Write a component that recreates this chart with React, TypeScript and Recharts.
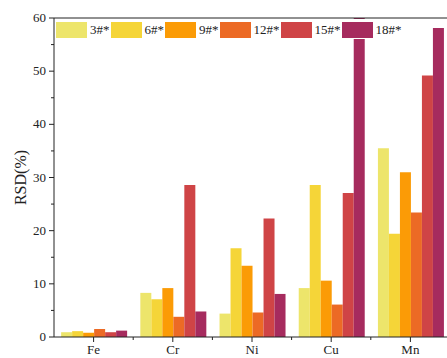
import React from 'react';
import { BarChart, Bar, XAxis, YAxis, ReferenceLine } from 'recharts';

const categories = ['Fe', 'Cr', 'Ni', 'Cu', 'Mn'];
const s3 = [0.9, 8.3, 4.4, 9.2, 35.5];
const s6 = [1.1, 7.1, 16.7, 28.6, 19.4];
const s9 = [0.8, 9.2, 13.4, 10.6, 31.0];
const s12 = [1.5, 3.8, 4.6, 6.1, 23.4];
const s15 = [0.9, 28.6, 22.3, 27.1, 49.2];
const s18 = [1.2, 4.8, 8.1, 62, 58.1];
const yTicks = [0, 5, 10, 15, 20, 25, 30, 35, 40, 45, 50, 55, 60];

const series = [
  { key: 's3', name: '3#*', color: '#ede56b' },
  { key: 's6', name: '6#*', color: '#f5d538' },
  { key: 's9', name: '9#*', color: '#fb9b06' },
  { key: 's12', name: '12#*', color: '#ec6a25' },
  { key: 's15', name: '15#*', color: '#cf4446' },
  { key: 's18', name: '18#*', color: '#a62b5e' },
];

const data = categories.map((c, i) => ({
  name: c,
  s3: s3[i],
  s6: s6[i],
  s9: s9[i],
  s12: s12[i],
  s15: s15[i],
  s18: s18[i],
}));

const FONT = '"Liberation Serif", "Times New Roman", serif';
const INK = '#222';

const YTick = ({ x, y, payload }: any) => {
  const major = payload.value % 10 === 0;
  return (
    <g>
      <line x1={x} x2={x - (major ? 5 : 3)} y1={y} y2={y} stroke={INK} strokeWidth={1} />
      {major && (
        <text x={x - 8} y={y} dy={4} textAnchor="end" fontSize={13} style={{ fontFamily: FONT }} fill={INK}>
          {payload.value}
        </text>
      )}
    </g>
  );
};

const XTick = ({ x, y, payload }: any) => {
  const half = payload.offset || 39.5;
  return (
    <g>
      <line x1={x} x2={x} y1={y} y2={y + 5} stroke={INK} />
      <line x1={x + half} x2={x + half} y1={y} y2={y + 3} stroke={INK} />
      <text x={x} y={y + 17} textAnchor="middle" fontSize={13} style={{ fontFamily: FONT }} fill={INK}>
        {payload.value}
      </text>
    </g>
  );
};

const LegendBox = () => (
  <div
    style={{
      position: 'absolute',
      top: 19,
      left: 55,
      display: 'flex',
      alignItems: 'center',
      background: '#fff',
      padding: '3px 0 1px 1px',
    }}
  >
    {series.map((s) => (
      <div key={s.key} style={{ display: 'flex', alignItems: 'center' }}>
        <span style={{ width: 31, height: 16, background: s.color, display: 'inline-block' }} />
        <span style={{ fontFamily: FONT, fontSize: 13, color: INK, margin: '0 1px 0 3px', lineHeight: '16px' }}>
          {s.name}
        </span>
      </div>
    ))}
  </div>
);

export default function App() {
  return (
    <div
      style={{
        position: 'absolute',
        top: 0,
        left: 0,
        width: 447,
        height: 358,
        overflow: 'hidden',
        background: '#fff',
      }}
    >
      <BarChart
        width={452}
        height={358}
        data={data}
        margin={{ top: 18, right: 2, left: 10, bottom: 0 }}
        barCategoryGap="9%"
        barGap={0}
      >
        <XAxis
          dataKey="name"
          height={21}
          tick={<XTick />}
          tickLine={false}
          tickSize={0}
          tickMargin={0}
          axisLine={{ stroke: INK }}
          interval={0}
        />
        <YAxis
          width={44}
          domain={[0, 60]}
          ticks={yTicks}
          allowDataOverflow
          tick={<YTick />}
          tickLine={false}
          tickSize={0}
          tickMargin={0}
          axisLine={{ stroke: INK }}
          interval={0}
          label={{
            content: ({ viewBox }: any) => (
              <text
                x={viewBox.x + 10}
                y={viewBox.y + viewBox.height / 2}
                transform={`rotate(-90, ${viewBox.x + 10}, ${viewBox.y + viewBox.height / 2})`}
                textAnchor="middle"
                dominantBaseline="central"
                fontSize={16}
                style={{ fontFamily: FONT }}
                fill={INK}
              >
                RSD(%)
              </text>
            ),
          }}
        />
        <ReferenceLine y={60} stroke={INK} />
        {series.map((s) => (
          <Bar key={s.key} dataKey={s.key} name={s.name} fill={s.color} isAnimationActive={false} />
        ))}
      </BarChart>
      <LegendBox />
    </div>
  );
}
